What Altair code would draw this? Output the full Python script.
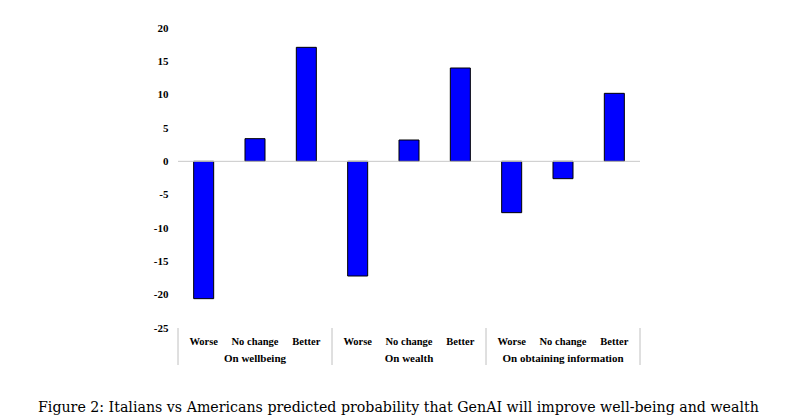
import altair as alt
import pandas as pd

groups = ["On wellbeing", "On wealth", "On obtaining information"]
outcomes = ["Worse", "No change", "Better"]
wellbeing = [-20.6, 3.4, 17.1]
wealth = [-17.2, 3.2, 14.0]
information = [-7.7, -2.6, 10.2]
y_ticks = [-25, -20, -15, -10, -5, 0, 5, 10, 15, 20]
boundaries = [0, 1, 2, 3]
caption = "Figure 2: Italians vs Americans predicted probability that GenAI will improve well-being and wealth"

rows = []
for g, vals in zip(groups, [wellbeing, wealth, information]):
    for o, v in zip(outcomes, vals):
        rows.append({"key": f"{g}|{o}", "group": g, "outcome": o, "value": v})
df = pd.DataFrame(rows)
order = list(df["key"])
mid = df[df["outcome"] == "No change"]

W, H = 462, 300
FONT = "Liberation Serif"

xscale = alt.Scale(domain=order, paddingInner=0.61, paddingOuter=0.305)
yscale = alt.Scale(domain=[-25, 20], nice=False, zero=False)
yaxis = alt.Axis(values=y_ticks, grid=False, domain=False, ticks=False,
                 labelExpr="datum.value < 0 ? '-' + abs(datum.value) : '' + datum.value",
                 labelFont=FONT, labelFontWeight="bold", labelFontSize=11,
                 labelPadding=10, labelColor="black", labelOverlap=False,
                 labelBound=False, labelFlush=False, title=None)

bars = alt.Chart(df).mark_bar(color="#0000FF", stroke="black", strokeWidth=1).encode(
    x=alt.X("key:N", scale=xscale, sort=order, title=None,
            axis=alt.Axis(labelExpr="split(datum.label, '|')[1]", labelAngle=0,
                          ticks=False, domain=False, labelFont=FONT,
                          labelFontWeight="bold", labelFontSize=10.5,
                          labelPadding=8, labelColor="black", labelOverlap=False)),
    y=alt.Y("value:Q", scale=yscale, title=None, axis=yaxis),
)

zero = alt.Chart(pd.DataFrame({"value": [0]})).mark_rule(color="#c8c8c8", strokeWidth=1).encode(
    y=alt.Y("value:Q", scale=yscale, title=None, axis=yaxis)
)

seps = alt.Chart(pd.DataFrame({"b": boundaries})).mark_rule(color="#c0c0c0", strokeWidth=1).encode(
    x=alt.X("b:Q", scale=alt.Scale(domain=[0, 3], nice=False, zero=False), axis=None),
    y=alt.value(H),
    y2=alt.value(H + 37),
)

glabels = alt.Chart(mid).mark_text(font=FONT, fontWeight="bold", fontSize=11,
                                   color="black", baseline="middle").encode(
    x=alt.X("key:N", scale=xscale, sort=order, axis=None),
    y=alt.value(H + 31),
    text="group:N",
)

chart = alt.layer(bars, zero, seps, glabels).resolve_scale(x="independent").properties(
    width=W, height=H,
    padding={"left": 30, "top": 14, "right": 10, "bottom": 5},
    title=alt.TitleParams(text=caption, orient="bottom", anchor="start", frame="group",
                          font="DejaVu Serif", fontSize=14.2, fontWeight="normal", color="black",
                          dx=-140, offset=35),
).configure_view(stroke=None)

chart.save("out.html", embed_options={"renderer": "svg", "actions": False})
